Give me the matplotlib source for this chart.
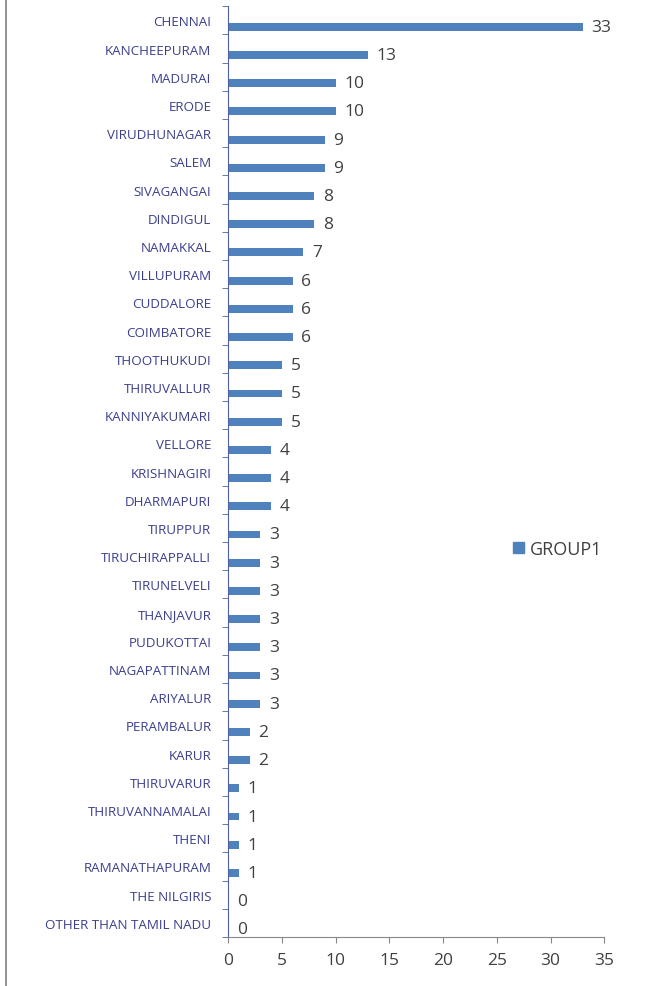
import matplotlib
matplotlib.use('Agg')
import matplotlib.pyplot as plt
from matplotlib.lines import Line2D
from matplotlib.patches import Patch

plt.rcParams['font.family'] = ['Open Sans', 'DejaVu Sans']

# データ（上から順）
districts = ['CHENNAI', 'KANCHEEPURAM', 'MADURAI', 'ERODE', 'VIRUDHUNAGAR', 'SALEM',
             'SIVAGANGAI', 'DINDIGUL', 'NAMAKKAL', 'VILLUPURAM', 'CUDDALORE', 'COIMBATORE',
             'THOOTHUKUDI', 'THIRUVALLUR', 'KANNIYAKUMARI', 'VELLORE', 'KRISHNAGIRI',
             'DHARMAPURI', 'TIRUPPUR', 'TIRUCHIRAPPALLI', 'TIRUNELVELI', 'THANJAVUR',
             'PUDUKOTTAI', 'NAGAPATTINAM', 'ARIYALUR', 'PERAMBALUR', 'KARUR', 'THIRUVARUR',
             'THIRUVANNAMALAI', 'THENI', 'RAMANATHAPURAM', 'THE NILGIRIS',
             'OTHER THAN TAMIL NADU']
group1 = [33, 13, 10, 10, 9, 9, 8, 8, 7, 6, 6, 6, 5, 5, 5, 4, 4, 4,
          3, 3, 3, 3, 3, 3, 3, 2, 2, 1, 1, 1, 1, 0, 0]
x_ticks = [0, 5, 10, 15, 20, 25, 30, 35]

BAR_C   = '#4F81BD'
LABEL_C = '#3B3F8C'
TEXT_C  = '#404040'

fig = plt.figure(figsize=(6.67, 9.87), dpi=100)
ax = fig.add_axes([0.342, 0.0497, 0.564, 0.943])

n = len(districts)
pos = list(range(n))
bar_pos = [p + 0.23 for p in pos]
ax.barh(bar_pos, group1, height=0.28, color=BAR_C, label='GROUP1')

for y, v in zip(bar_pos, group1):
    ax.text(v + 0.8, y, f'{v}', va='center', ha='left', fontsize=12.5, color=TEXT_C)

ax.set_ylim(n - 0.5, -0.5)
ax.set_xlim(0, 35)
ax.set_xticks(x_ticks)
ax.set_xticklabels([str(t) for t in x_ticks], fontsize=12.5, color=TEXT_C)

ax.set_yticks(pos)
ax.set_yticklabels(districts, fontsize=9.6, color=LABEL_C)
ax.set_yticks([p - 0.5 for p in pos] + [n - 0.5], minor=True)
ax.tick_params(axis='y', which='major', length=0, pad=12)
ax.tick_params(axis='y', which='minor', length=4, color='#5060A0', direction='out')
ax.tick_params(axis='x', length=4, color='#888888', direction='out', pad=7)

for s in ['top', 'right']:
    ax.spines[s].set_visible(False)
ax.spines['left'].set_color('#5060A0')
ax.spines['bottom'].set_color('#888888')

ax.legend(handles=[Patch(color=BAR_C, label='GROUP1')], loc='center left',
          bbox_to_anchor=(0.715, 0.417), frameon=False, fontsize=13,
          handlelength=0.6, handleheight=0.6, handletextpad=0.3,
          labelcolor=TEXT_C)

# 左端の枠線
fig.add_artist(Line2D([0.009, 0.009], [0.0, 1.0], color='#8A8A8A', lw=1.3,
                      transform=fig.transFigure))

fig.savefig('out.png', dpi=100)
